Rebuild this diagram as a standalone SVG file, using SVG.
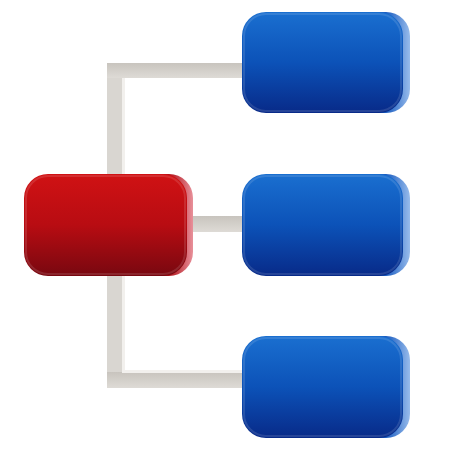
<svg xmlns="http://www.w3.org/2000/svg" width="450" height="450" viewBox="0 0 450 450">
<defs>
<linearGradient id="red" x1="0" y1="0" x2="0" y2="1">
<stop offset="0" stop-color="#d01214"/>
<stop offset="0.5" stop-color="#b80c12"/>
<stop offset="1" stop-color="#780810"/>
</linearGradient>
<linearGradient id="redside" x1="0" y1="0" x2="1" y2="0">
<stop offset="0.85" stop-color="#b01018"/>
<stop offset="1" stop-color="#e8909a"/>
</linearGradient>
<linearGradient id="blue" x1="0" y1="0" x2="0" y2="1">
<stop offset="0" stop-color="#1a6fd0"/>
<stop offset="0.5" stop-color="#0c52b8"/>
<stop offset="1" stop-color="#082a88"/>
</linearGradient>
<linearGradient id="blueside" x1="0" y1="0" x2="1" y2="0">
<stop offset="0.85" stop-color="#1a5cc0"/>
<stop offset="1" stop-color="#98bcec"/>
</linearGradient>
<linearGradient id="barH" x1="0" y1="0" x2="0" y2="1">
<stop offset="0" stop-color="#c8c4be"/>
<stop offset="1" stop-color="#dedbd6"/>
</linearGradient>
<style>
.bar{fill:#d9d6d1}
.hl{fill:#f2f0ed}
.rim{fill:none;stroke:#ffffff;stroke-opacity:0.12;stroke-width:2}
</style>
</defs>
<g id="connectors">
<rect class="bar" x="107" y="63" width="16" height="325"/>
<rect x="107" y="63" width="136" height="15" fill="url(#barH)"/>
<rect x="107" y="372" width="136" height="16" fill="url(#barH)"/>
<rect x="185" y="216" width="60" height="16" fill="url(#barH)"/>
<rect class="hl" x="122" y="78" width="3" height="294"/>
<rect class="hl" x="122" y="370" width="121" height="3"/>
</g>
<g id="root">
<rect x="32" y="174" width="161" height="102" rx="24" fill="url(#redside)"/>
<rect x="24" y="174" width="163" height="102" rx="24" fill="url(#red)"/>
<rect class="rim" x="26" y="176" width="159" height="98" rx="22"/>
</g>
<g id="child1">
<rect x="250" y="12" width="160" height="101" rx="24" fill="url(#blueside)"/>
<rect x="242" y="12" width="161" height="101" rx="24" fill="url(#blue)"/>
<rect class="rim" x="244" y="14" width="157" height="97" rx="22"/>
</g>
<g id="child2">
<rect x="250" y="174" width="160" height="102" rx="24" fill="url(#blueside)"/>
<rect x="242" y="174" width="161" height="102" rx="24" fill="url(#blue)"/>
<rect class="rim" x="244" y="176" width="157" height="98" rx="22"/>
</g>
<g id="child3">
<rect x="250" y="336" width="160" height="102" rx="24" fill="url(#blueside)"/>
<rect x="242" y="336" width="161" height="102" rx="24" fill="url(#blue)"/>
<rect class="rim" x="244" y="338" width="157" height="98" rx="22"/>
</g>
</svg>
